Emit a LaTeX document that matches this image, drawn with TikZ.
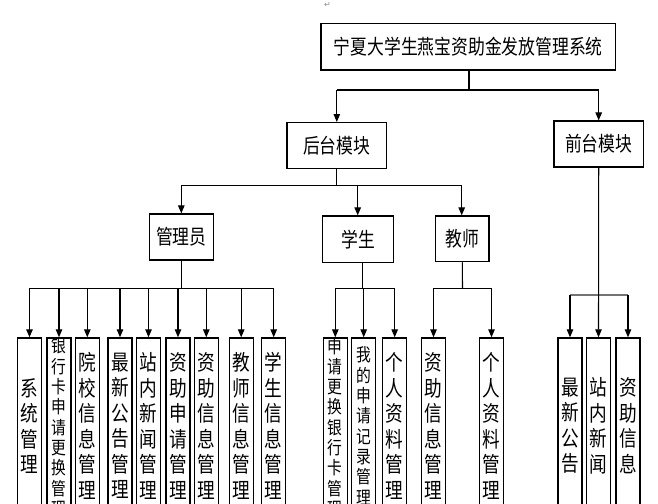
\documentclass[tikz,border=0pt]{standalone}
\usepackage{fontspec}
\newfontfamily\cjk[FakeStretch=0.82]{Noto Sans CJK SC}
\newfontfamily\dejavu{DejaVu Sans}
\usetikzlibrary{arrows.meta}
\begin{document}
\begin{tikzpicture}[x=1pt,y=-1pt,
  box/.style={draw,line width=1.2pt,inner sep=0pt,font=\cjk\fontsize{20.5}{24}\selectfont},
  leaf/.style={draw,line width=1.2pt,inner sep=0pt,minimum width=24pt,minimum height=176pt,anchor=north,align=center,font=\cjk\fontsize{21.5}{25.5}\selectfont},
  leafsm/.style={leaf,font=\cjk\fontsize{18}{20.3}\selectfont},
  conn/.style={line width=1.1pt},
  arr/.style={conn,-{Triangle[length=8pt,width=6.5pt]}},
  busgray/.style={line width=1.6pt,draw=black!55},
]
\useasboundingbox (0,0) rectangle (658,503);
\clip (0,0) rectangle (658,503);
\fill[white] (0,0) rectangle (658,503);

\node[font=\dejavu\fontsize{8}{9}\selectfont,text=black!45,inner sep=0pt] (pm) at (327.5,5) {↵};

% level 0 and 1
\node[box,minimum width=294.7pt,minimum height=46.7pt] (top) at (468.3,46.7) {宁夏大学生燕宝资助金发放管理系统};
\node[box,minimum width=99.7pt,minimum height=46pt] (back) at (336.8,145.6) {后台模块};
\node[box,minimum width=89.3pt,minimum height=46pt] (front) at (598.7,144) {前台模块};

\coordinate (b1) at (469,90);
\draw[conn] ([xshift=0.7pt]top.south) -- (b1);
\draw[conn] (back.north |- b1) -- (front.north |- b1);
\draw[arr] (back.north |- b1) -- (back.north);
\draw[arr] (front.north |- b1) -- (front.north);

% level 2
\node[box,minimum width=64pt,minimum height=46pt] (adm) at (181.3,237) {管理员};
\node[box,minimum width=70.6pt,minimum height=46.7pt] (stu) at (358,239.3) {学生};
\node[box,minimum width=53.3pt,minimum height=45.7pt] (tea) at (462.3,238.8) {教师};

\coordinate (b2) at (336.8,185.5);
\draw[conn] (back.south) -- (b2);
\draw[conn] (adm.north |- b2) -- (tea.north |- b2);
\draw[arr] (adm.north |- b2) -- (adm.north);
\draw[arr] ([xshift=-0.3pt]stu.north |- b2) -- ([xshift=-0.3pt]stu.north);
\draw[arr] ([xshift=-0.6pt]tea.north |- b2) -- ([xshift=-0.6pt]tea.north);

% admin leaves
\node[leaf] (a1) at (29.5,337.3) {系\\统\\管\\理};
\node[leafsm] (a2) at (59,337.3) {银\\行\\卡\\申\\请\\更\\换\\管\\理};
\node[leaf] (a3) at (87.3,337.3) {院\\校\\信\\息\\管\\理};
\node[leaf] (a4) at (120,337.3) {最\\新\\公\\告\\管\\理};
\node[leaf] (a5) at (148.5,337.3) {站\\内\\新\\闻\\管\\理};
\node[leaf] (a6) at (178,337.3) {资\\助\\申\\请\\管\\理};
\node[leaf] (a7) at (206.3,337.3) {资\\助\\信\\息\\管\\理};
\node[leaf] (a8) at (241.2,337.3) {教\\师\\信\\息\\管\\理};
\node[leaf] (a9) at (273.7,337.3) {学\\生\\信\\息\\管\\理};

\coordinate (b3a) at (181.7,288.3);
\draw[conn] ([xshift=0.4pt]adm.south) -- (b3a);
\draw[conn] (a1.north |- b3a) -- (a9.north |- b3a);
\foreach \i in {1,...,9} {\draw[arr] (a\i.north |- b3a) -- (a\i.north);}

% student leaves
\node[leafsm] (s1) at (335.3,337.3) {申\\请\\更\\换\\银\\行\\卡\\管\\理};
\node[leafsm] (s2) at (363.7,337.3) {我\\的\\申\\请\\记\\录\\管\\理};
\node[leaf] (s3) at (394.7,337.3) {个\\人\\资\\料\\管\\理};

\coordinate (b3s) at (362.7,288.3);
\draw[conn] ([xshift=4.7pt]stu.south) -- (b3s);
\draw[conn] (s1.north |- b3s) -- (s3.north |- b3s);
\foreach \i in {1,2,3} {\draw[arr] (s\i.north |- b3s) -- (s\i.north);}

% teacher leaves
\node[leaf] (t1) at (433.5,337.3) {资\\助\\信\\息\\管\\理};
\node[leaf] (t2) at (491.5,337.3) {个\\人\\资\\料\\管\\理};

\coordinate (b3t) at (462.5,288.3);
\draw[conn] (tea.south) -- (b3t);
\draw[conn] (t1.north |- b3t) -- (t2.north |- b3t);
\foreach \i in {1,2} {\draw[arr] (t\i.north |- b3t) -- (t\i.north);}

% front leaves
\node[leaf] (f1) at (570,337.3) {最\\新\\公\\告};
\node[leaf] (f2) at (598.5,337.3) {站\\内\\新\\闻};
\node[leaf] (f3) at (628,337.3) {资\\助\\信\\息};

\coordinate (b3f) at (598.5,295);
\draw[busgray] (f1.north |- b3f) -- (f3.north |- b3f);
\draw[arr] (front.south) -- (f2.north);
\draw[arr] (f1.north |- b3f) -- (f1.north);
\draw[arr] (f3.north |- b3f) -- (f3.north);
\end{tikzpicture}
\end{document}
